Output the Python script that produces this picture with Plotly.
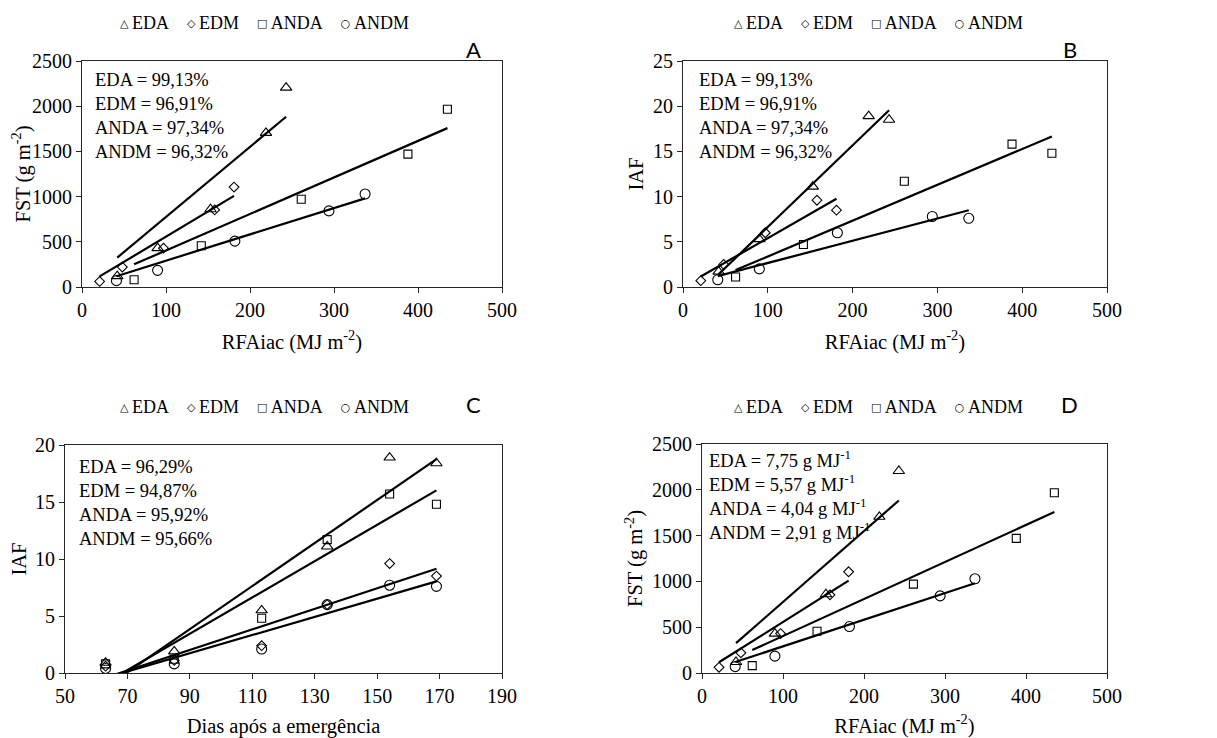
import numpy as np
import plotly.graph_objects as go

# ---------------- data ----------------
series = ["EDA", "EDM", "ANDA", "ANDM"]
legend_glyphs = ["△", "◇", "□", "○"]

# accumulated PAR (MJ m-2) per treatment (panels A, B, D)
rfa_eda = [42, 90, 153, 219, 243]
rfa_edm = [21, 48, 97, 158, 181]
rfa_anda = [62, 142, 261, 388, 435]
rfa_andm = [41, 90, 182, 294, 337]

# total dry matter FST (g m-2) (panels A, D)
fst_eda = [120, 430, 860, 1705, 2205]
fst_edm = [62, 220, 430, 853, 1105]
fst_anda = [81, 456, 970, 1470, 1967]
fst_andm = [70, 184, 507, 842, 1029]

# leaf area index IAF vs RFAiac (panel B)
iaf_eda = [1.7, 5.3, 11.1, 18.9, 18.5]
iaf_edm = [0.7, 2.5, 6.0, 9.6, 8.5]
iaf_anda = [1.1, 4.7, 11.7, 15.8, 14.8]
iaf_andm = [0.8, 2.0, 6.0, 7.8, 7.6]

# IAF vs days after emergence (panel C)
dae = [63, 85, 113, 134, 154, 169]
iafc_eda = [0.9, 1.9, 5.5, 11.1, 18.9, 18.4]
iafc_edm = [0.6, 1.1, 2.4, 6.0, 9.6, 8.5]
iafc_anda = [0.8, 1.2, 4.8, 11.7, 15.7, 14.8]
iafc_andm = [0.4, 0.8, 2.1, 6.0, 7.7, 7.6]

# radiation use efficiency (g MJ-1), slopes of the lines in A and D
rue = [7.75, 5.57, 4.04, 2.91]
rue_labels = ["7,75", "5,57", "4,04", "2,91"]

# coefficients of determination shown in the panels
r2_ab = ["99,13%", "96,91%", "97,34%", "96,32%"]
r2_c = ["96,29%", "94,87%", "95,92%", "95,66%"]

# ---------------- styling ----------------
# the page body keeps an 8 px default margin, so the figure is 8 px smaller
OFF = 8
W, H = 1217 - OFF, 738 - OFF
SERIF = "Liberation Serif"
SANS = "Lato"
symbols = ["triangle-up-open", "diamond-open", "square-open", "circle-open"]
msizes = [10, 7.5, 8, 10]


def fx(p):
    return (p - OFF) / W


def fy(p):
    return 1 - (p - OFF) / H


fig = go.Figure()

panels = [
    dict(ax="", xs=[rfa_eda, rfa_edm, rfa_anda, rfa_andm],
         ys=[fst_eda, fst_edm, fst_anda, fst_andm], fit="origin"),
    dict(ax="2", xs=[rfa_eda, rfa_edm, rfa_anda, rfa_andm],
         ys=[iaf_eda, iaf_edm, iaf_anda, iaf_andm], fit="ols"),
    dict(ax="3", xs=[dae] * 4,
         ys=[iafc_eda, iafc_edm, iafc_anda, iafc_andm], fit="ols"),
    dict(ax="4", xs=[rfa_eda, rfa_edm, rfa_anda, rfa_andm],
         ys=[fst_eda, fst_edm, fst_anda, fst_andm], fit="origin"),
]

for p in panels:
    xa, ya = "x" + p["ax"], "y" + p["ax"]
    for i, name in enumerate(series):
        xv = np.array(p["xs"][i], dtype=float)
        yv = np.array(p["ys"][i], dtype=float)
        fig.add_trace(go.Scatter(
            x=xv, y=yv, mode="markers", name=name, showlegend=False,
            xaxis=xa, yaxis=ya,
            marker=dict(symbol=symbols[i], size=msizes[i], color="black",
                        line=dict(width=1.1, color="black")),
        ))
    for i, name in enumerate(series):
        xv = np.array(p["xs"][i], dtype=float)
        yv = np.array(p["ys"][i], dtype=float)
        xl = np.array([xv.min(), xv.max()])
        if p["fit"] == "origin":
            yl = rue[i] * xl
        else:
            b, a = np.polyfit(xv, yv, 1)
            yl = a + b * xl
        fig.add_trace(go.Scatter(
            x=xl, y=yl, mode="lines", name=name + " ajuste", showlegend=False,
            xaxis=xa, yaxis=ya, line=dict(color="black", width=2.2),
            hoverinfo="skip",
        ))

axis_common = dict(
    showline=True, linecolor="#262626", linewidth=1.2, mirror=True,
    ticks="outside", ticklen=5, tickwidth=1.2, tickcolor="#262626",
    showgrid=False, zeroline=False, automargin=False,
    tickfont=dict(family=SERIF, size=20, color="black"),
)
title_font = dict(family=SERIF, size=20.5, color="black")

x_title_rfa = "RFAiac (MJ m<sup>-2</sup>)"
y_title_fst = "FST (g m<sup>-2</sup>)"
XS, YS = 14, 3

layout_axes = {
    # panel A
    "xaxis": dict(domain=[fx(82), fx(502)], range=[0, 500], tick0=0, dtick=100, anchor="y",
                  title=dict(text=x_title_rfa, font=title_font, standoff=XS), **axis_common),
    "yaxis": dict(domain=[fy(287), fy(61)], range=[0, 2500], tick0=0, dtick=500, anchor="x",
                  title=dict(text=y_title_fst, font=title_font, standoff=YS), **axis_common),
    # panel B
    "xaxis2": dict(domain=[fx(683), fx(1107)], range=[0, 500], tick0=0, dtick=100, anchor="y2",
                   title=dict(text=x_title_rfa, font=title_font, standoff=XS), **axis_common),
    "yaxis2": dict(domain=[fy(287), fy(61)], range=[0, 25], tick0=0, dtick=5, anchor="x2",
                   title=dict(text="IAF", font=title_font, standoff=YS), **axis_common),
    # panel C
    "xaxis3": dict(domain=[fx(65), fx(502)], range=[50, 190], tick0=50, dtick=20, anchor="y3",
                   title=dict(text="Dias após a emergência", font=title_font, standoff=XS + 1),
                   **axis_common),
    "yaxis3": dict(domain=[fy(673), fy(445)], range=[0, 20], tick0=0, dtick=5, anchor="x3",
                   title=dict(text="IAF", font=title_font, standoff=YS), **axis_common),
    # panel D
    "xaxis4": dict(domain=[fx(702), fx(1107)], range=[0, 500], tick0=0, dtick=100, anchor="y4",
                   title=dict(text=x_title_rfa, font=title_font, standoff=XS + 1), **axis_common),
    "yaxis4": dict(domain=[fy(673), fy(444)], range=[0, 2500], tick0=0, dtick=500, anchor="x4",
                   title=dict(text=y_title_fst, font=title_font, standoff=YS), **axis_common),
}

fig.update_layout(
    width=W, height=H, margin=dict(l=0, r=0, t=0, b=0),
    paper_bgcolor="white", plot_bgcolor="white", showlegend=False,
    **layout_axes,
)

# legends (one row of symbol + name above each panel)
gap = "\u00a0" * 4
legend_text = gap.join(
    f"<span style='font-family:DejaVu Sans;font-size:11px;baseline-shift:2px'>{g}\u00a0</span>{s}"
    for g, s in zip(legend_glyphs, series)
)
for lx, ly in [(264, 23), (878, 23), (264, 407), (878, 407)]:
    fig.add_annotation(text=legend_text, x=fx(lx), y=fy(ly), xref="paper", yref="paper",
                       showarrow=False, xanchor="center", yanchor="middle",
                       font=dict(family=SERIF, size=18, color="black"))

# panel letters
for letter, (lx, ly) in zip("ABCD", [(473, 50), (1070, 50), (473, 404), (1069, 404)]):
    fig.add_annotation(text=letter, x=fx(lx), y=fy(ly), xref="paper", yref="paper",
                       showarrow=False, xanchor="center", yanchor="middle",
                       font=dict(family=SANS, size=22, color="black"))

# statistics text blocks
blocks = [
    (93, [80, 104, 128, 152], [f"{s} = {v}" for s, v in zip(series, r2_ab)]),
    (697, [80, 104, 128, 152], [f"{s} = {v}" for s, v in zip(series, r2_ab)]),
    (77, [467, 491, 515, 539], [f"{s} = {v}" for s, v in zip(series, r2_c)]),
    (707, [459, 483, 507, 531], [f"{s} = {v} g MJ<sup>-1</sup>" for s, v in zip(series, rue_labels)]),
]
for bx, bys, texts in blocks:
    for by, t in zip(bys, texts):
        fig.add_annotation(text=t, x=fx(bx), y=fy(by), xref="paper", yref="paper",
                           showarrow=False, xanchor="left", yanchor="middle",
                           font=dict(family=SERIF, size=18.5, color="black"))

fig.write_html("out.html")
